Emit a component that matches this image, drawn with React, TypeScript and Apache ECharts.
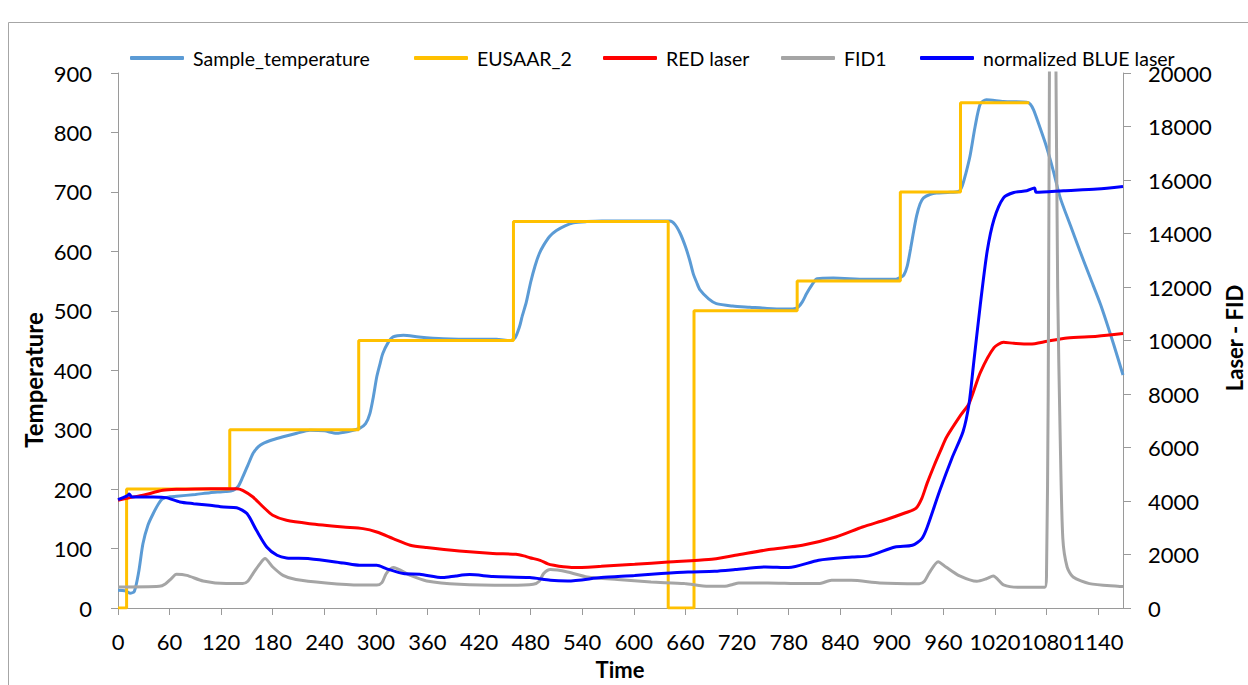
import React, { useEffect, useRef } from 'react';
import * as echarts from 'echarts';

// ---- Tick labels ----
const xTickValues = [0, 60, 120, 180, 240, 300, 360, 420, 480, 540, 600, 660, 720, 780, 840, 900, 960, 1020, 1080, 1140];
const xMax = 1169;

// ---- Sample_temperature (left axis) ----
const sampleT = [0, 8, 14, 19, 24, 29, 35, 41, 47, 52, 60, 68, 90, 107, 125, 134, 140, 145, 151, 157, 163, 169, 180, 192, 208, 223, 240, 254, 268, 281, 288, 293, 297, 301, 305, 308, 314, 320, 332, 350, 378, 417, 440, 456, 462, 467, 470, 475, 480, 485, 490, 495, 502, 510, 520, 530, 545, 563, 600, 642, 648, 654, 660, 665, 669, 673, 677, 687, 696, 715, 735, 755, 774, 785, 791, 796, 801, 807, 813, 832, 870, 905, 910, 914, 918, 922, 925, 929, 933, 937, 945, 952, 965, 978, 982, 986, 991, 997, 1003, 1010, 1030, 1057, 1061, 1065, 1072, 1080, 1088, 1096, 1108, 1119, 1131, 1143, 1158, 1169];
const sampleV = [30, 29, 25, 28, 60, 108, 140, 159, 175, 184, 187, 188, 191, 194, 196, 198, 205, 220, 240, 260, 271, 277, 283, 288, 294, 299, 298, 294, 297, 302, 310, 327, 355, 389, 412, 428, 446, 456, 459, 456, 453, 452, 452, 450, 455, 473, 490, 515, 548, 575, 596, 610, 625, 635, 643, 648, 650, 651, 651, 651, 645, 630, 608, 585, 563, 548, 535, 520, 512, 508, 506, 504, 503, 503, 506, 515, 529, 543, 554, 555, 553, 553, 556, 560, 575, 605, 630, 660, 680, 690, 696, 698, 699, 701, 710, 730, 760, 810, 848, 855, 852, 851, 848, 838, 810, 776, 735, 690, 643, 600, 555, 510, 444, 392];

// ---- EUSAAR_2 protocol steps (left axis) ----
const eusaarT = [0, 10, 10, 130, 130, 280, 280, 460, 460, 640, 640, 670, 670, 790, 790, 910, 910, 980, 980, 1060];
const eusaarV = [0, 0, 200, 200, 300, 300, 450, 450, 650, 650, 0, 0, 500, 500, 550, 550, 700, 700, 850, 850];

// ---- RED laser (right axis) ----
const redT = [0, 14, 29, 52, 68, 107, 138, 145, 157, 169, 180, 196, 223, 262, 285, 301, 320, 340, 359, 397, 436, 463, 472, 479, 491, 500, 507, 518, 530, 562, 601, 640, 687, 718, 757, 796, 835, 866, 893, 916, 928, 935, 941, 949, 957, 964, 980, 990, 1003, 1019, 1030, 1042, 1061, 1081, 1104, 1139, 1169];
const redV = [4026, 4127, 4213, 4400, 4437, 4462, 4462, 4400, 4150, 3775, 3465, 3278, 3153, 3028, 2967, 2841, 2594, 2344, 2258, 2131, 2040, 2010, 1950, 1880, 1783, 1650, 1596, 1540, 1510, 1559, 1633, 1720, 1809, 1970, 2183, 2344, 2654, 3028, 3300, 3560, 3720, 4100, 4650, 5300, 5900, 6400, 7200, 7650, 8800, 9733, 9933, 9893, 9867, 9973, 10093, 10160, 10260];

// ---- FID1 (right axis) ----
const fidT = [0, 48, 55, 62, 68, 80, 99, 126, 145, 151, 157, 165, 171, 180, 192, 207, 242, 281, 301, 307, 312, 320, 340, 359, 397, 456, 483, 490, 495, 503, 523, 546, 581, 620, 659, 687, 706, 715, 722, 756, 795, 815, 830, 853, 886, 932, 938, 944, 954, 963, 979, 999, 1010, 1018, 1030, 1049, 1078, 1080, 1082, 1084, 1087, 1090, 1093, 1096, 1099, 1104, 1111, 1130, 1163, 1169];
const fidV = [785, 810, 900, 1100, 1260, 1220, 1010, 912, 912, 1000, 1286, 1650, 1846, 1533, 1220, 1062, 935, 860, 860, 950, 1286, 1510, 1220, 1010, 885, 849, 885, 1000, 1286, 1435, 1346, 1159, 1062, 972, 912, 811, 811, 880, 935, 935, 912, 912, 1035, 1035, 933, 907, 1000, 1333, 1733, 1533, 1200, 1000, 1093, 1200, 867, 773, 773, 1200, 8000, 25000, 40000, 25000, 12000, 6300, 2600, 1533, 1159, 912, 811, 800];

// ---- normalized BLUE laser (right axis) ----
const blueT = [0, 6, 11, 13, 16, 21, 41, 56, 72, 88, 107, 123, 138, 150, 161, 173, 185, 196, 223, 262, 281, 301, 312, 332, 351, 378, 393, 409, 436, 479, 503, 523, 562, 601, 632, 663, 694, 718, 753, 780, 815, 854, 873, 904, 924, 935, 941, 956, 970, 983, 990, 995, 1003, 1011, 1019, 1030, 1042, 1057, 1066, 1068, 1100, 1139, 1169];
const blueV = [4051, 4127, 4200, 4260, 4150, 4150, 4150, 4127, 3963, 3901, 3839, 3776, 3750, 3529, 2904, 2280, 1970, 1869, 1844, 1682, 1596, 1596, 1473, 1286, 1261, 1136, 1200, 1248, 1180, 1136, 1035, 1010, 1136, 1211, 1286, 1346, 1373, 1435, 1533, 1510, 1783, 1906, 1950, 2280, 2344, 2594, 3000, 4400, 5600, 6600, 7650, 9067, 11333, 13333, 14533, 15333, 15533, 15600, 15700, 15540, 15600, 15667, 15760];

const zip = (t: number[], v: number[]) => t.map((x, i) => [x, v[i]]);

const FONT = 'Lato';
const AXIS_COLOR = '#9a9a9a';
const plain = (v: number) => String(v);

const legendDefs = [
  { name: 'Sample_temperature', left: 130 },
  { name: 'EUSAAR_2', left: 414 },
  { name: 'RED laser', left: 603 },
  { name: 'FID1', left: 781 },
  { name: 'normalized BLUE laser', left: 920 },
];

export default function App() {
  const ref = useRef<HTMLDivElement>(null);
  useEffect(() => {
    document.body.style.margin = '0';
    const chart = echarts.init(ref.current as HTMLDivElement, null, { renderer: 'svg' });
    const lineCommon = {
      type: 'line' as const,
      showSymbol: false,
      symbol: 'none',
      smooth: 0.25,
    };
    chart.setOption({
      animation: false,
      textStyle: { fontFamily: FONT },
      grid: { left: 118, right: 125, top: 73, bottom: 77, containLabel: false },
      legend: legendDefs.map((d) => ({
        data: [d.name],
        left: d.left,
        top: 48,
        padding: 0,
        icon: 'roundRect',
        itemWidth: 54,
        itemHeight: 4,
        selectedMode: false,
        textStyle: { fontFamily: FONT, fontSize: 19.5, color: '#000', padding: [0, 0, 0, 4] },
      })),
      xAxis: {
        type: 'value',
        min: 0,
        max: xMax,
        interval: 60,
        splitLine: { show: false },
        axisLine: { show: true, lineStyle: { color: AXIS_COLOR, width: 1 } },
        axisTick: { show: true, length: 7, customValues: xTickValues, lineStyle: { color: AXIS_COLOR } },
        axisLabel: {
          customValues: xTickValues,
          formatter: plain,
          showMinLabel: true,
          showMaxLabel: true,
          hideOverlap: false,
          margin: 22,
          fontSize: 22,
          color: '#000',
          fontFamily: FONT,
        },
      },
      yAxis: [
        {
          type: 'value',
          min: 0,
          max: 900,
          interval: 100,
          position: 'left',
          splitLine: { show: false },
          axisLine: { show: true, lineStyle: { color: AXIS_COLOR, width: 1 } },
          axisTick: { show: true, length: 7, lineStyle: { color: AXIS_COLOR } },
          axisLabel: { formatter: plain, margin: 26, fontSize: 22, color: '#000', fontFamily: FONT },
        },
        {
          type: 'value',
          min: 0,
          max: 20000,
          interval: 2000,
          position: 'right',
          splitLine: { show: false },
          axisLine: { show: true, lineStyle: { color: AXIS_COLOR, width: 1 } },
          axisTick: { show: true, length: 8, lineStyle: { color: AXIS_COLOR } },
          axisLabel: { formatter: plain, margin: 25, fontSize: 22, color: '#000', fontFamily: FONT },
        },
      ],
      series: [
        {
          ...lineCommon,
          name: 'Sample_temperature',
          yAxisIndex: 0,
          data: zip(sampleT, sampleV),
          itemStyle: { color: '#5B9BD5' },
          lineStyle: { color: '#5B9BD5', width: 3 },
        },
        {
          type: 'line',
          name: 'EUSAAR_2',
          showSymbol: false,
          symbol: 'none',
          yAxisIndex: 0,
          data: zip(eusaarT, eusaarV),
          itemStyle: { color: '#FFC000' },
          lineStyle: { color: '#FFC000', width: 3 },
        },
        {
          ...lineCommon,
          name: 'RED laser',
          yAxisIndex: 1,
          data: zip(redT, redV),
          itemStyle: { color: '#FF0000' },
          lineStyle: { color: '#FF0000', width: 3 },
        },
        {
          ...lineCommon,
          name: 'FID1',
          yAxisIndex: 1,
          data: zip(fidT, fidV),
          itemStyle: { color: '#A5A5A5' },
          lineStyle: { color: '#A5A5A5', width: 3 },
        },
        {
          ...lineCommon,
          name: 'normalized BLUE laser',
          yAxisIndex: 1,
          data: zip(blueT, blueV),
          itemStyle: { color: '#0000FF' },
          lineStyle: { color: '#0000FF', width: 3 },
        },
      ],
      graphic: [
        { type: 'line', shape: { x1: 8.5, y1: 22.5, x2: 1248, y2: 22.5 }, style: { stroke: '#a6a6a6', lineWidth: 1 }, silent: true },
        { type: 'line', shape: { x1: 8.5, y1: 22.5, x2: 8.5, y2: 685 }, style: { stroke: '#a6a6a6', lineWidth: 1 }, silent: true },
        {
          type: 'text',
          x: 33,
          y: 380,
          rotation: Math.PI / 2,
          style: { text: 'Temperature', fontFamily: FONT, fontSize: 24, fontWeight: 'bold', fill: '#000', align: 'center', verticalAlign: 'middle', textAlign: 'center', textVerticalAlign: 'middle' },
        },
        {
          type: 'text',
          x: 1234,
          y: 338,
          rotation: Math.PI / 2,
          style: { text: 'Laser - FID', fontFamily: FONT, fontSize: 22, fontWeight: 'bold', fill: '#000', align: 'center', verticalAlign: 'middle', textAlign: 'center', textVerticalAlign: 'middle' },
        },
        {
          type: 'text',
          x: 620,
          y: 669,
          style: { text: 'Time', fontFamily: FONT, fontSize: 22, fontWeight: 'bold', fill: '#000', align: 'center', verticalAlign: 'middle', textAlign: 'center', textVerticalAlign: 'middle' },
        },
      ],
    });
    return () => chart.dispose();
  }, []);
  return <div ref={ref} style={{ width: 1248, height: 685 }} />;
}
